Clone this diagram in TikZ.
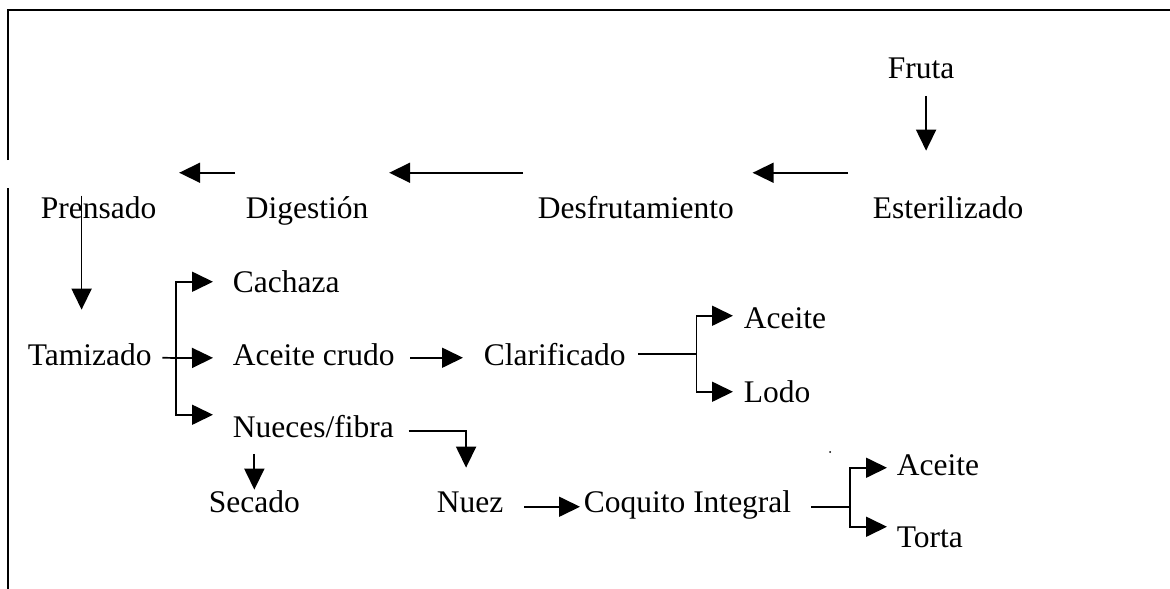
\documentclass[tikz,border=0pt]{standalone}
\usepackage{fontspec}
\setmainfont{Liberation Serif}
\usetikzlibrary{arrows.meta,calc}
\begin{document}
\begin{tikzpicture}[x=1pt,y=-1pt,>={Triangle[length=21pt,width=20pt]},line width=1.7pt,
	etapa/.style={anchor=base west,inner sep=0pt,text height=21.5pt,text depth=7pt,font=\fontsize{31.5}{38}\selectfont}]
	\useasboundingbox (0,0) rectangle (1170,589);
	%Marco
	\draw [line width=2.5pt](8,160) -- (8,10) -- (1170,10);
	\draw [line width=2.5pt](8,188) -- (8,589);
	%Etapas
	\node [etapa] (fruta) at (887,78) {Fruta};
	\node [etapa] (ester) at (872,218) {Esterilizado};
	\node [etapa] (desf) at (537,218) {Desfrutamiento};
	\node [etapa] (dig) at (245,218) {Digestión};
	\node [etapa] (pren) at (40,218) {Prensado};
	\node [etapa] (tamiz) at (27,365) {Tamizado};
	\node [etapa] (cach) at (232,292) {Cachaza};
	\node [etapa] (crudo) at (232,365) {Aceite crudo};
	\node [etapa] (nuec) at (232,437) {Nueces/fibra};
	\node [etapa] (secado) at (208,512) {Secado};
	\node [etapa] (clarif) at (483,365) {Clarificado};
	\node [etapa] (aceite1) at (743,328) {Aceite};
	\node [etapa] (lodo) at (743,402) {Lodo};
	\node [etapa] (nuez) at (436,512) {Nuez};
	\node [etapa] (coq) at (583,512) {Coquito Integral};
	\node [etapa] (aceite2) at (896,475) {Aceite};
	\node [etapa] (torta) at (896,547) {Torta};
	%Flechas
	\draw [->,shorten <=10pt,shorten >=45pt]($(fruta.south)+(5,0)$) -- ($(fruta.south |- ester.north)+(5,0)$);
	\draw [->,shorten <=24pt,shorten >=18pt]($(ester.west)+(0,-38)$) -- ($(desf.east)+(0,-38)$);
	\draw [->,shorten <=14pt,shorten >=20pt]($(desf.west)+(0,-38)$) -- ($(dig.east)+(0,-38)$);
	\draw [->,shorten <=10pt,shorten >=22pt]($(dig.west)+(0,-38)$) -- ($(pren.east)+(0,-38)$);
	\draw [->,shorten >=33pt]($(pren.north)+(-17,0)$) -- ($(pren.north |- tamiz.north)+(-17,0)$);
	\coordinate (rama1) at (176,358);
	\draw ($(tamiz.east)+(10,0)$) -- (rama1);
	\draw [->,shorten >=19pt](rama1) |- ($(cach.west)+(0,-3)$);
	\draw [->,shorten >=19pt](rama1) -- (crudo.west);
	\draw [->,shorten >=19pt](rama1) |- ($(nuec.west)+(0,-15)$);
	\draw [->,shorten <=15pt,shorten >=20pt](crudo.east) -- (clarif.west);
	\coordinate (rama2) at ($(clarif.east)+(70,-4)$);
	\draw ($(clarif.east)+(12,-4)$) -- (rama2);
	\draw [->,shorten >=10pt](rama2) |- ($(aceite1.west)+(0,-5)$);
	\draw [->,shorten >=10pt](rama2) |- ($(lodo.west)+(0,-3)$);
	\draw [->,shorten <=9pt](secado.north |- nuec.south) -- (secado.north);
	\draw [->,shorten >=22pt]($(nuec.east)+(14,1)$) -| ($(nuez.north)+(-4,0)$);
	\draw [->,shorten <=20pt,shorten >=3pt]($(nuez.east)+(0,2)$) -- ($(coq.west)+(0,2)$);
	\coordinate (rama3) at ($(coq.east)+(58,2)$);
	\draw ($(coq.east)+(19,2)$) -- (rama3);
	\draw [->,shorten >=9pt](rama3) |- (aceite2.west);
	\draw [->,shorten >=9pt](rama3) |- ($(torta.west)+(0,-13)$);
	\fill (830,452) circle (1pt);
\end{tikzpicture}
\end{document}
